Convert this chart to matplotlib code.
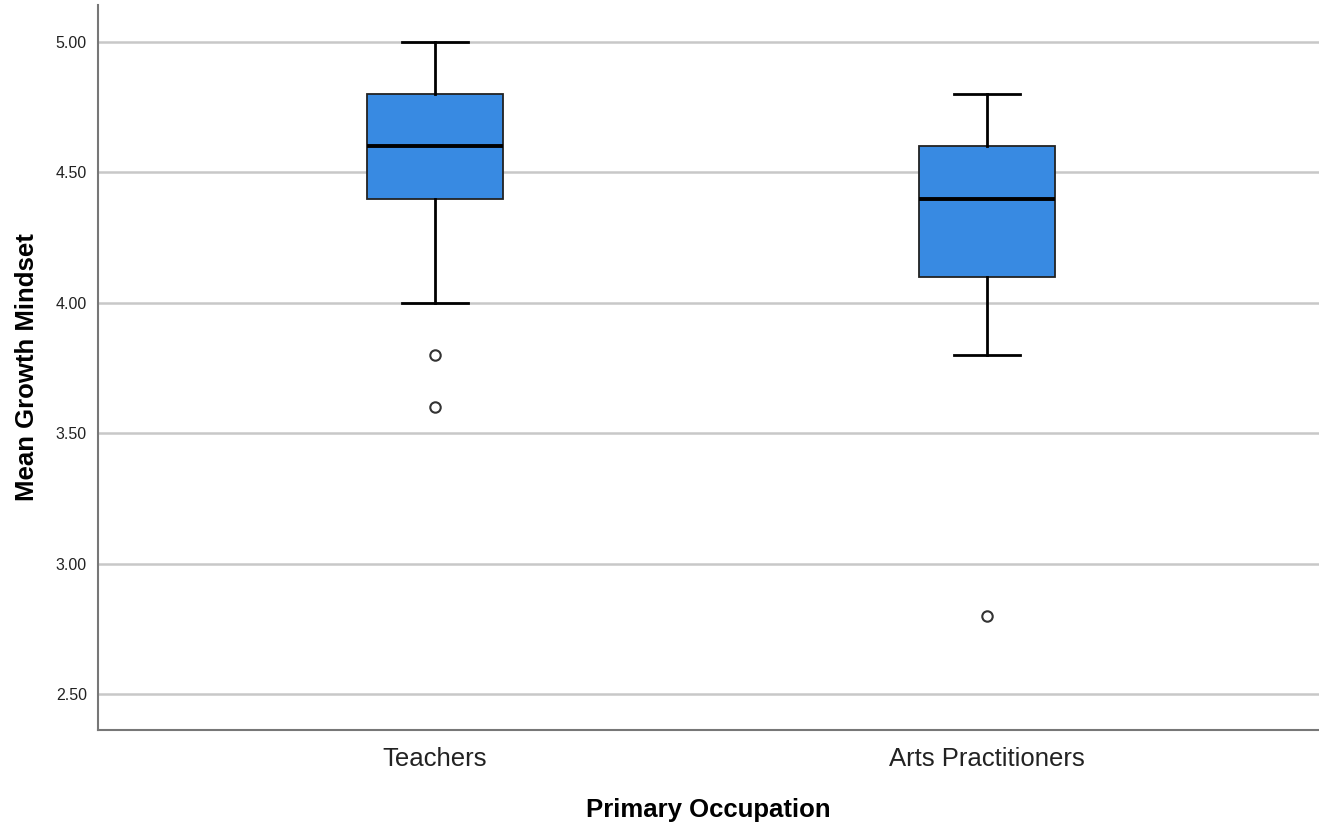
import matplotlib
matplotlib.use("Agg")
import matplotlib.pyplot as plt

plt.rcParams['font.family'] = ['Liberation Sans', 'DejaVu Sans']

groups = ['Teachers', 'Arts Practitioners']
whis_low = [4.0, 3.8]
q1 = [4.4, 4.1]
median = [4.6, 4.4]
q3 = [4.8, 4.6]
whis_high = [5.0, 4.8]
outliers = [[3.8, 3.6], [2.8]]
yticks = [2.5, 3.0, 3.5, 4.0, 4.5, 5.0]

stats = []
for i, g in enumerate(groups):
    stats.append(dict(label=g, whislo=whis_low[i], q1=q1[i], med=median[i],
                      q3=q3[i], whishi=whis_high[i], fliers=outliers[i]))

fig = plt.figure(figsize=(13.19, 8.26), dpi=100)
ax = fig.add_axes([98/1319, 1-730/826, 1-98/1319, (730-5)/826])

ax.bxp(stats, positions=[1, 2], widths=0.246, capwidths=0.12, patch_artist=True,
       boxprops=dict(facecolor='#388ae2', edgecolor='#222222', linewidth=1.3),
       medianprops=dict(color='black', linewidth=2.8),
       whiskerprops=dict(color='black', linewidth=2),
       capprops=dict(color='black', linewidth=2),
       flierprops=dict(marker='o', markerfacecolor='white', markeredgecolor='#333333',
                       markersize=7.5, markeredgewidth=1.5),
       zorder=3)

ax.set_xlim(0.3895, 2.601)
ax.set_ylim(2.5 - 36/260, 5.0 + 37/260)
ax.set_yticks(yticks)
ax.set_yticklabels(['%.2f' % v for v in yticks], fontsize=11.5, color='#222222')
ax.tick_params(axis='y', length=0, pad=8)
ax.tick_params(axis='x', length=0, labelsize=18.5, labelcolor='#222222', pad=12)
ax.grid(axis='y', color='#c8c8c8', linewidth=1.8, zorder=0)
ax.set_axisbelow(True)

for s in ['top', 'right']:
    ax.spines[s].set_visible(False)
for s in ['left', 'bottom']:
    ax.spines[s].set_color('#777777')
    ax.spines[s].set_linewidth(1.5)

ax.set_xlabel('Primary Occupation', fontsize=18.5, fontweight='bold', labelpad=20)
ax.set_ylabel('Mean Growth Mindset', fontsize=18.5, fontweight='bold', labelpad=12)

fig.savefig('out.png', dpi=100)
